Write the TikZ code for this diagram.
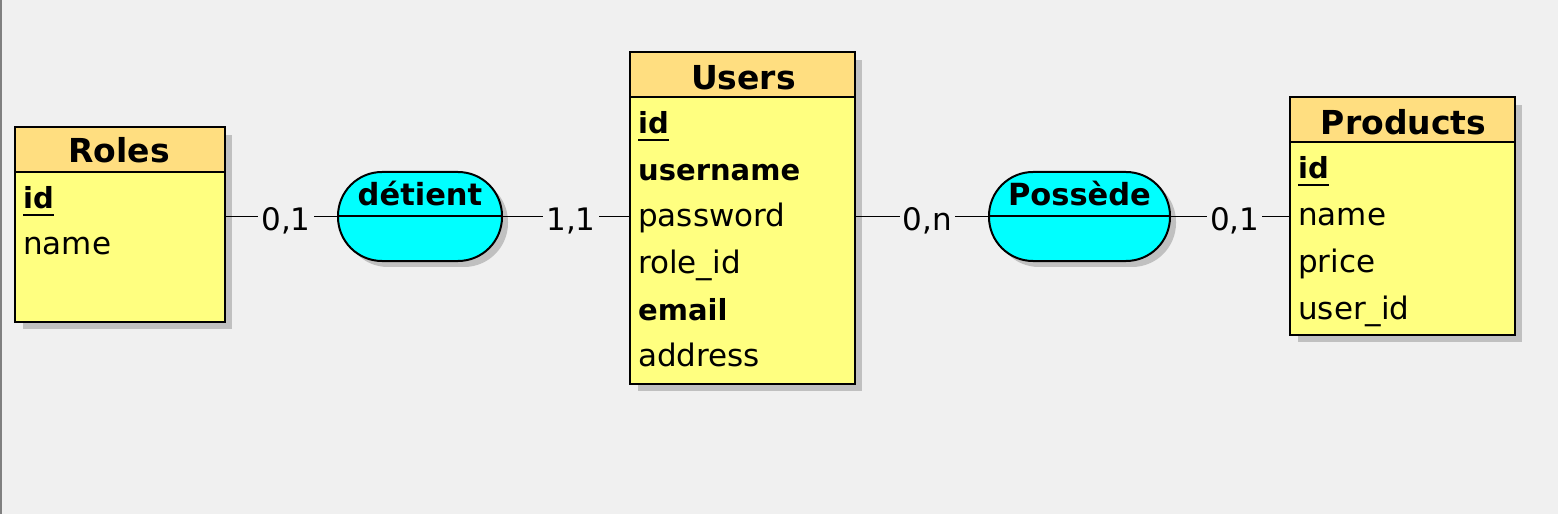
\documentclass[tikz,border=0pt]{standalone}
\usepackage{fontspec}
\setmainfont{DejaVu Sans}
\usetikzlibrary{calc}
\definecolor{bg}{RGB}{240,240,240}
\definecolor{headcol}{RGB}{255,222,128}
\definecolor{bodycol}{RGB}{255,255,128}
\definecolor{relcol}{RGB}{0,255,255}
\definecolor{shadcol}{RGB}{192,192,192}
\newcommand{\bfatt}[1]{{\fontsize{29bp}{34bp}\selectfont\bfseries #1}}
\tikzset{
  ent/.style={draw=black, line width=2bp, fill=bodycol, anchor=north west, inner sep=0pt},
  enthead/.style={draw=black, line width=2bp, fill=headcol, anchor=north west, inner sep=0pt},
  title/.style={anchor=base, font=\fontsize{33bp}{38bp}\selectfont\bfseries, inner sep=0pt},
  attr/.style={anchor=base west, font=\fontsize{31bp}{36bp}\selectfont, inner sep=0pt},
  rel/.style={draw=black, line width=2bp, fill=relcol, rounded corners=44bp, inner sep=0pt, minimum height=89bp},
  reltext/.style={anchor=base, font=\fontsize{30.5bp}{36bp}\selectfont\bfseries, inner sep=0pt},
  shad/.style={fill=shadcol, draw=none},
  link/.style={draw=black, line width=1.2bp},
  uline/.style={draw=black, line width=2bp},
  card/.style={fill=bg, inner sep=3bp, anchor=base, yshift=-14bp, font=\fontsize{31bp}{36bp}\selectfont, pos=0.54}
}
\begin{document}
\begin{tikzpicture}[x=1bp,y=-1bp]
\useasboundingbox (0,0) rectangle (1558,514);
\fill[bg] (0,0) rectangle (1558,514);
\draw[color=gray, line width=2bp] (1,0) -- (1,514);

% ---- Roles ----
\fill[shad] (23,135) rectangle (232,329);
\node[ent, minimum width=210bp, minimum height=195bp] (roles) at (14,126) {};
\node[enthead, minimum width=210bp, minimum height=45bp] (rolesh) at (14,126) {};
\node[title] (rolest) at (119,163) {Roles};
\node[attr] (rolesa1) at (23,209) {\bfatt{id}};
\draw[uline] ($(rolesa1.south west)+(0,5)$) -- ($(rolesa1.south east)+(0,5)$);
\node[attr] (rolesa2) at (23,255) {name};

% ---- Users ----
\fill[shad] (638,60) rectangle (862,391);
\node[ent, minimum width=225bp, minimum height=332bp] (users) at (629,51) {};
\node[enthead, minimum width=225bp, minimum height=45bp] (usersh) at (629,51) {};
\node[title] (userst) at (743.5,90) {Users};
\node[attr] (usersa1) at (638,134) {\bfatt{id}};
\draw[uline] ($(usersa1.south west)+(0,5)$) -- ($(usersa1.south east)+(0,5)$);
\node[attr] (usersa2) at (638,180.5) {\bfatt{username}};
\node[attr] (usersa3) at (638,227) {password};
\node[attr] (usersa4) at (638,273.5) {role\_id};
\node[attr] (usersa5) at (638,320) {\bfatt{email}};
\node[attr] (usersa6) at (638,366.5) {address};

% ---- Products ----
\fill[shad] (1298,105) rectangle (1522,342);
\node[ent, minimum width=225bp, minimum height=238bp] (prod) at (1289,96) {};
\node[enthead, minimum width=225bp, minimum height=45bp] (prodh) at (1289,96) {};
\node[title] (prodt) at (1403.5,135) {Products};
\node[attr] (proda1) at (1298,179) {\bfatt{id}};
\draw[uline] ($(proda1.south west)+(0,5)$) -- ($(proda1.south east)+(0,5)$);
\node[attr] (proda2) at (1298,226) {name};
\node[attr] (proda3) at (1298,272.5) {price};
\node[attr] (proda4) at (1298,319) {user\_id};

% ---- relation shadows ----
\fill[shad, rounded corners=44bp] (344,178) rectangle (508,267);
\fill[shad, rounded corners=44bp] (995,178) rectangle (1176,267);

% ---- relations ----
\node[rel, minimum width=164bp] (det) at (420,216.5) {};
\draw[line width=2bp] (det.west) -- (det.east);
\node[reltext] (dett) at (420,206) {détient};

\node[rel, minimum width=181bp] (pos) at (1079.5,216.5) {};
\draw[line width=2bp] (pos.west) -- (pos.east);
\node[reltext] (post) at (1079.5,206) {Possède};

% ---- links ----
\draw[link] (roles.east |- det.west) -- node[card] {0,1} (det.west);
\draw[link] (det.east) -- node[card] {1,1} (users.west |- det.east);
\draw[link] (users.east |- pos.west) -- node[card] {0,n} (pos.west);
\draw[link] (pos.east) -- node[card] {0,1} (prod.west |- pos.east);
\end{tikzpicture}
\end{document}
